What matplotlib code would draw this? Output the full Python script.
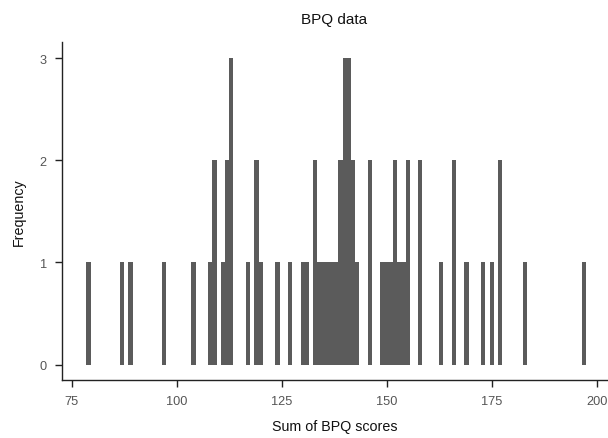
import matplotlib
matplotlib.use('Agg')
import matplotlib.pyplot as plt

# Sum of BPQ scores (integer bins) and how many participants scored each
scores = [79, 87, 89, 97, 104, 108, 109, 111, 112, 113, 117, 119, 120, 124,
          127, 130, 131, 133, 134, 135, 136, 137, 138, 139, 140, 141, 142,
          143, 146, 149, 150, 151, 152, 153, 154, 155, 158, 163, 166, 169,
          173, 175, 177, 183, 197]
counts = [1, 1, 1, 1, 1, 1, 2, 1, 2, 3, 1, 2, 1, 1,
          1, 1, 1, 2, 1, 1, 1, 1, 1, 2, 3, 3, 2,
          1, 2, 1, 1, 1, 2, 1, 1, 2, 2, 1, 2, 1,
          1, 1, 2, 1, 1]
x_ticks = [75, 100, 125, 150, 175, 200]
y_ticks = [0, 1, 2, 3]

plt.rcParams['font.family'] = ['Liberation Sans', 'DejaVu Sans']

fig = plt.figure(figsize=(6.08, 4.39), dpi=100)
ax = fig.add_axes([0.1015, 0.1328, 0.8969, 0.7686])

ax.bar(scores, counts, width=1.0, color='#5b5b5b', edgecolor='none')

ax.set_xlim(72.6, 202.45)
ax.set_ylim(-0.147, 3.154)
ax.set_xticks(x_ticks)
ax.set_yticks(y_ticks)

for side in ('top', 'right'):
    ax.spines[side].set_visible(False)
for side in ('left', 'bottom'):
    ax.spines[side].set_color('#222222')
    ax.spines[side].set_linewidth(1.0)

ax.tick_params(axis='both', direction='out', length=5.3, width=1.0,
               color='#222222', labelcolor='#555555', labelsize=9.2, pad=5.5)

ax.set_xlabel('Sum of BPQ scores', fontsize=10.3, color='#111111', labelpad=9)
ax.set_ylabel('Frequency', fontsize=10.3, color='#111111', labelpad=10)
ax.set_title('BPQ data', fontsize=11, color='#111111', pad=14)

fig.savefig('out.png', dpi=100, facecolor='white')
